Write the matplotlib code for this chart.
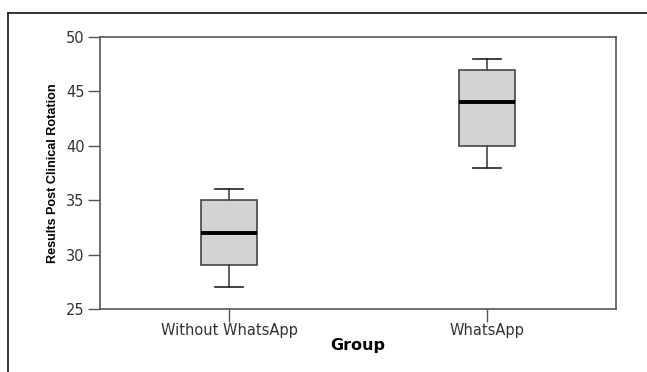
import matplotlib
matplotlib.use("Agg")
import matplotlib.pyplot as plt
from matplotlib.lines import Line2D

# data
groups = ["Without WhatsApp", "WhatsApp"]
whisker_low = [27, 38]
q1 = [29, 40]
median = [32, 44]
q3 = [35, 47]
whisker_high = [36, 48]


def main():
    fig = plt.figure(figsize=(6.47, 3.72), dpi=100)
    ax = fig.add_axes([100 / 647, 1 - 309 / 372, 516 / 647, 272 / 372])

    stats = []
    for i, name in enumerate(groups):
        stats.append({
            "label": name,
            "whislo": whisker_low[i],
            "q1": q1[i],
            "med": median[i],
            "q3": q3[i],
            "whishi": whisker_high[i],
            "fliers": [],
        })

    edge = "#444444"
    ax.bxp(
        stats,
        positions=range(len(groups)),
        widths=0.22,
        capwidths=0.11,
        patch_artist=True,
        showfliers=False,
        boxprops=dict(facecolor="#d3d3d3", edgecolor=edge, linewidth=1.2),
        whiskerprops=dict(color=edge, linewidth=1.2),
        capprops=dict(color="#222222", linewidth=1.2),
        medianprops=dict(color="black", linewidth=2.8),
    )

    ax.set_xlim(-0.5, 1.5)
    ax.set_ylim(25, 50)
    ax.set_yticks([25, 30, 35, 40, 45, 50])
    ax.set_xticks(range(len(groups)))
    ax.set_xticklabels(groups)

    for s in ax.spines.values():
        s.set_color("#555555")
        s.set_linewidth(1.2)
    ax.tick_params(axis="both", colors="#555555", length=9, width=1.0,
                   labelcolor="#333333", labelsize=10.5)
    ax.tick_params(axis="y", pad=2)
    ax.tick_params(axis="x", pad=1)
    for t in ax.get_xticklabels() + ax.get_yticklabels():
        t.set_family("DejaVu Sans")

    ax.set_xlabel("Group", fontsize=11.5, fontweight="bold",
                  family="DejaVu Sans", labelpad=0)
    fig.text(53 / 647, 1 - 173.5 / 372, "Results Post Clinical Rotation",
             rotation=90, ha="center", va="center", fontsize=9.1,
             fontweight="bold",
             family=["Liberation Sans Narrow", "Liberation Sans"])

    # outer frame (top and left edges only visible in the reference)
    fig.add_artist(Line2D([8 / 647, 1.0], [1 - 12.5 / 372, 1 - 12.5 / 372],
                          transform=fig.transFigure, color="#222222", lw=1.3))
    fig.add_artist(Line2D([8 / 647, 8 / 647], [0.0, 1 - 12.5 / 372],
                          transform=fig.transFigure, color="#222222", lw=1.3))

    fig.savefig("out.png", dpi=100)


if __name__ == "__main__":
    main()
